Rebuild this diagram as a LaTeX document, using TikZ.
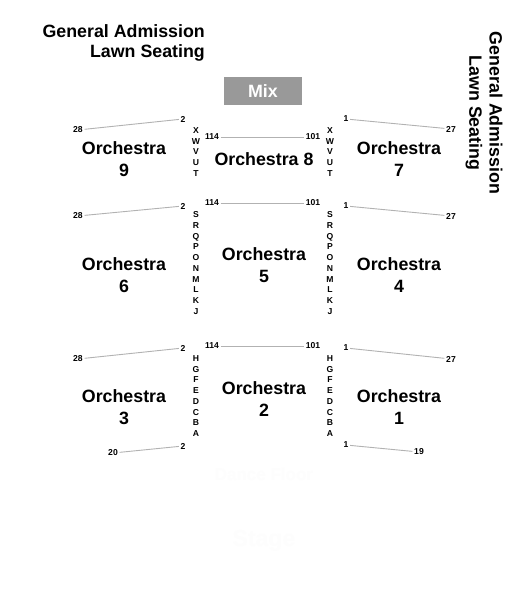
\documentclass[tikz,border=0pt]{standalone}
\usepackage{fontspec}
\setmainfont{Liberation Sans}[BoldFont={Liberation Sans Bold}]
\definecolor{mixgray}{gray}{0.6}
\definecolor{seatgray}{gray}{0.7}
\definecolor{ghost}{gray}{0.994}
\tikzset{
  section/.style={font=\bfseries\fontsize{17.8}{22}\selectfont,align=center,inner sep=0pt,text=black},
  title/.style={font=\bfseries\fontsize{17.8}{22}\selectfont,inner sep=0pt,text=black},
  seat/.style={font=\bfseries\fontsize{8.6}{10}\selectfont,inner sep=1.6pt,text=black},
  rows/.style={font=\bfseries\fontsize{8.6}{10.7}\selectfont,align=center,inner sep=0pt,text=black},
  seatline/.style={draw=seatgray,line width=0.9pt},
  mixbox/.style={fill=mixgray,text=white,font=\bfseries\fontsize{17.8}{22}\selectfont,minimum width=78pt,minimum height=28pt,inner sep=0pt},
  ghosttext/.style={text=ghost,font=\bfseries\fontsize{17}{20}\selectfont,inner sep=0pt}
}
\begin{document}
\begin{tikzpicture}[x=1pt,y=-1pt]
\useasboundingbox (0,0) rectangle (525,610);
\fill[white] (0,0) rectangle (525,610);
% titles
\node[title,anchor=east] (gaL) at (205,31) {General Admission};
\node[title,anchor=east] (lawnL) at (205,53) {Lawn Seating};
\node[title,rotate=-90] (gaR) at (496,113) {General Admission};
\node[title,rotate=-90] (lawnR) at (474,113) {Lawn Seating};
\node[mixbox] (mix) at (263,91) {Mix};
% sections
\node[section] (o9) at (124,159) {Orchestra\\9};
\node[section] (o8) at (264,159) {Orchestra 8};
\node[section] (o7) at (399,159) {Orchestra\\7};
\node[section] (o6) at (124,275) {Orchestra\\6};
\node[section] (o5) at (264,265) {Orchestra\\5};
\node[section] (o4) at (399,275) {Orchestra\\4};
\node[section] (o3) at (124,407) {Orchestra\\3};
\node[section] (o2) at (264,399) {Orchestra\\2};
\node[section] (o1) at (399,407) {Orchestra\\1};
% row letters
\node[rows] (rXl) at (196,152) {X\\W\\V\\U\\T};
\node[rows] (rXr) at (330,152) {X\\W\\V\\U\\T};
\node[rows] (rSl) at (196,263) {S\\R\\Q\\P\\O\\N\\M\\L\\K\\J};
\node[rows] (rSr) at (330,263) {S\\R\\Q\\P\\O\\N\\M\\L\\K\\J};
\node[rows] (rHl) at (196,396) {H\\G\\F\\E\\D\\C\\B\\A};
\node[rows] (rHr) at (330,396) {H\\G\\F\\E\\D\\C\\B\\A};
% seat numbers
\node[seat] (a28) at (78,130) {28};
\node[seat] (a2) at (183,119) {2};
\node[seat] (a114) at (212,137) {114};
\node[seat] (a101) at (313,137) {101};
\node[seat] (a1) at (346,119) {1};
\node[seat] (a27) at (451,129) {27};
\node[seat] (b28) at (78,216) {28};
\node[seat] (b2) at (183,206) {2};
\node[seat] (b114) at (212,203) {114};
\node[seat] (b101) at (313,203) {101};
\node[seat] (b1) at (346,206) {1};
\node[seat] (b27) at (451,216) {27};
\node[seat] (c28) at (78,359) {28};
\node[seat] (c2) at (183,348) {2};
\node[seat] (c114) at (212,346) {114};
\node[seat] (c101) at (313,346) {101};
\node[seat] (c1) at (346,348) {1};
\node[seat] (c27) at (451,359) {27};
\node[seat] (d20) at (113,453) {20};
\node[seat] (d2) at (183,446) {2};
\node[seat] (d1) at (346,445) {1};
\node[seat] (d19) at (419,452) {19};
% seat lines
\foreach \r in {a,b,c}{
  \draw[seatline] (\r28) -- (\r2);
  \draw[seatline] (\r114) -- (\r101);
  \draw[seatline] (\r1) -- (\r27);
}
\draw[seatline] (d20) -- (d2);
\draw[seatline] (d1) -- (d19);
% nearly invisible labels
\node[ghosttext] (dance) at (264,474) {Dance Floor};
\node[ghosttext,font=\bfseries\fontsize{23}{26}\selectfont] (stage) at (264,541) {Stage};
\end{tikzpicture}
\end{document}
